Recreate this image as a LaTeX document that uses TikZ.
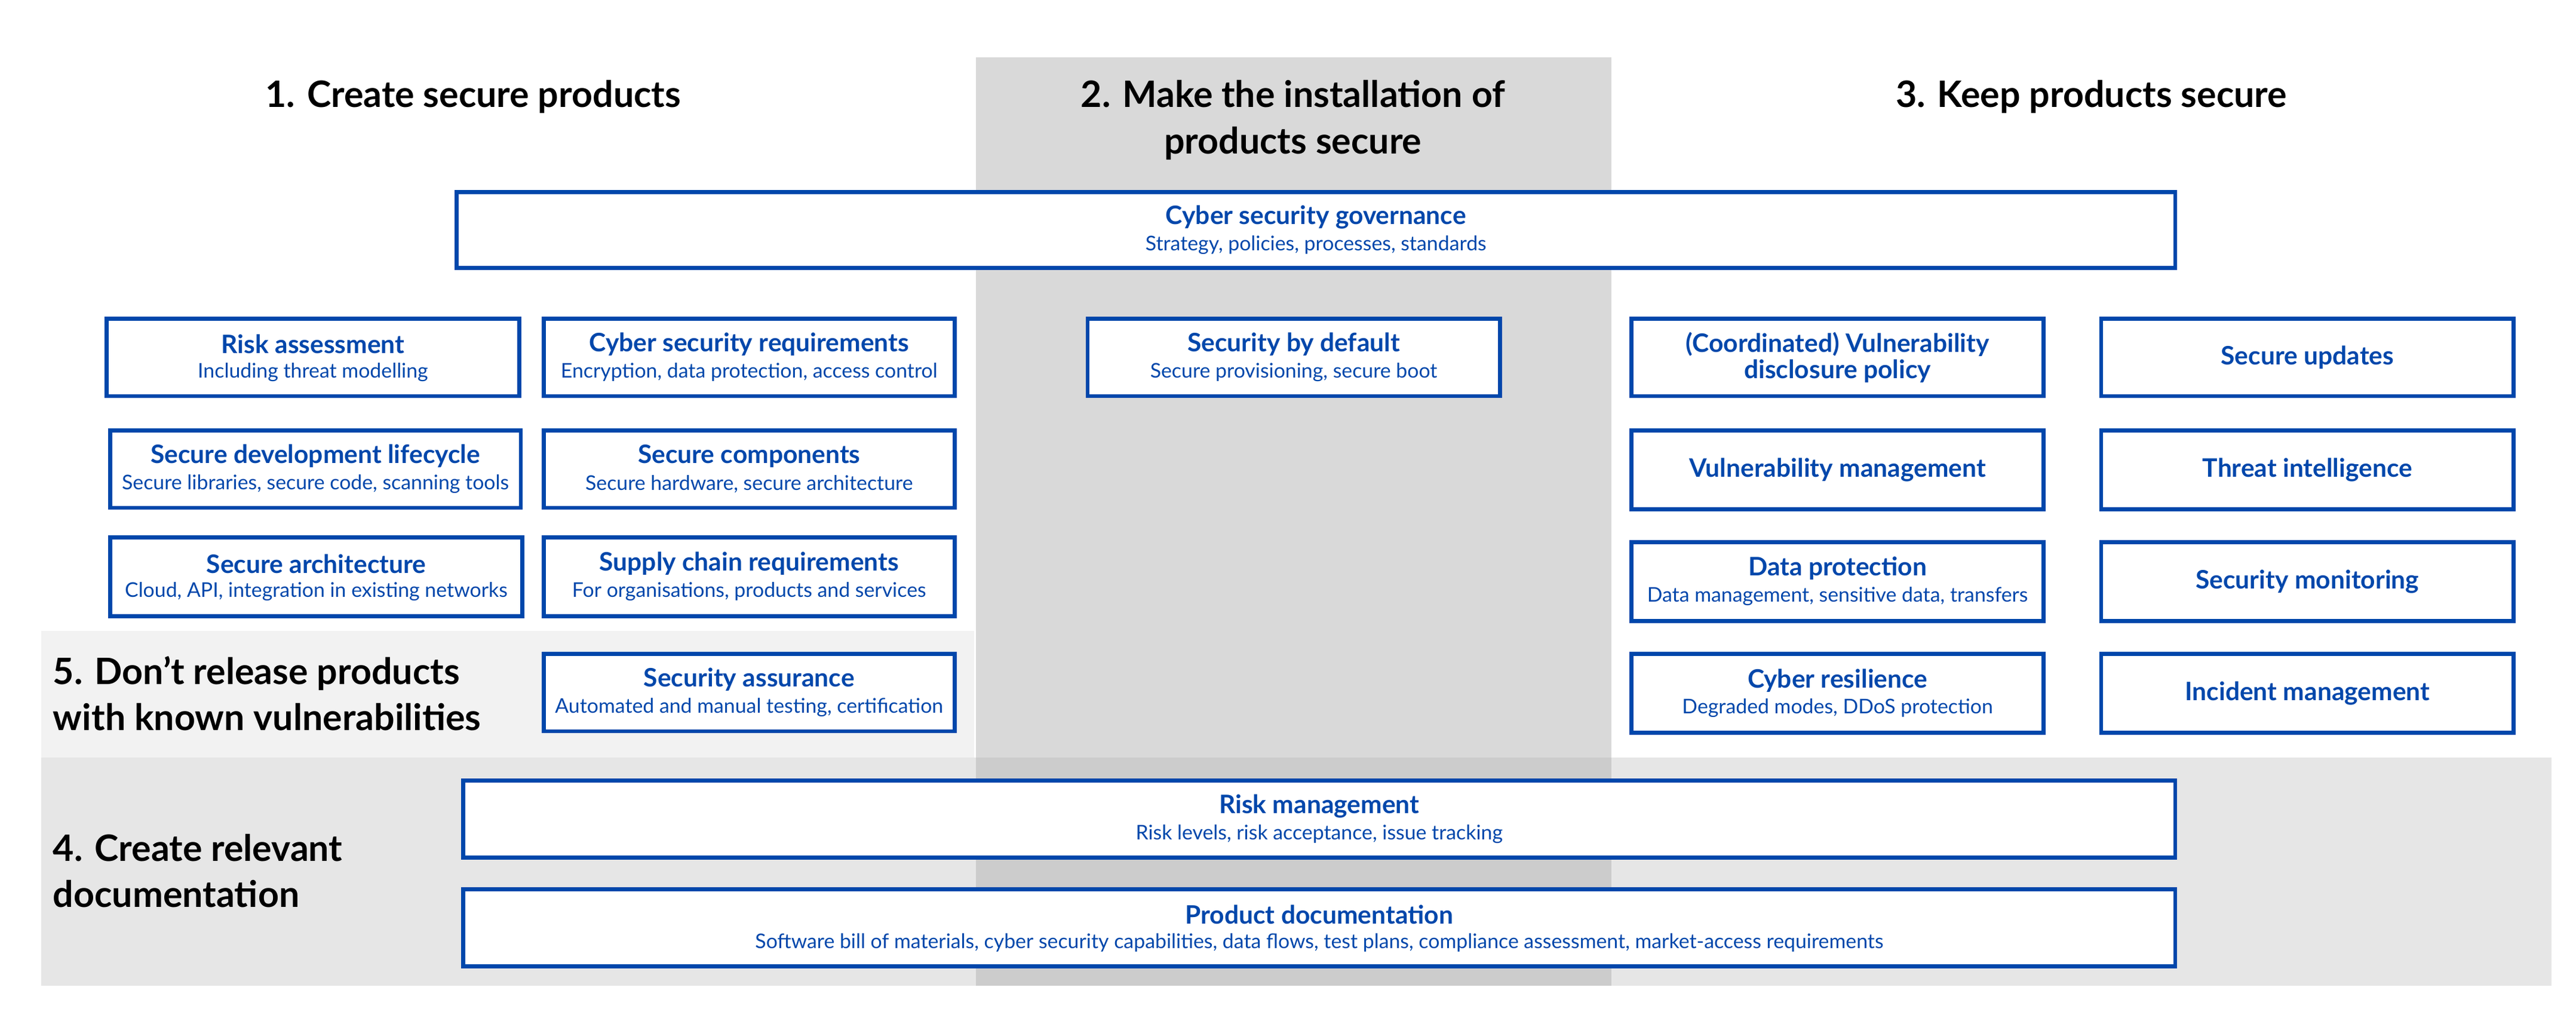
\documentclass[tikz,border=0pt]{standalone}
\usepackage{fontspec}
\setmainfont{Lato}
\definecolor{bl}{HTML}{0047AB}
\definecolor{g1}{HTML}{F2F2F2}
\definecolor{g2}{HTML}{E6E6E6}
\definecolor{g3}{HTML}{D9D9D9}
\definecolor{g4}{HTML}{CCCCCC}
\begin{document}
\begin{tikzpicture}[x=0.02cm,y=-0.02cm,
  box/.style={draw=bl,line width=1.4pt,fill=white},
  ttl/.style={font=\fontsize{8.8}{10}\selectfont\bfseries,text=bl,align=center},
  sub/.style={font=\fontsize{7}{8}\selectfont,text=bl,align=center},
  head/.style={font=\fontsize{12.6}{16}\selectfont\bfseries,align=center},
  lhead/.style={font=\fontsize{12.6}{16}\selectfont\bfseries,align=left,anchor=west,inner sep=0pt}]
\useasboundingbox (0,0) rectangle (1568,623);
\fill[white] (0,0) rectangle (1568,623);
\fill[g1] (25,384) rectangle (593,461);
\fill[g2] (25,461) rectangle (1553,600);
\fill[g3] (594,35) rectangle (981,461);
\fill[g4] (594,461) rectangle (981,600);
\node[head] (h1) at (288,59) {1. Create secure products};
\node[head] (h2) at (787,73) {2. Make the installation of\\products secure};
\node[head] (h3) at (1273,59) {3. Keep products secure};
\node[lhead] (h5) at (32,422) {5. Don’t release products\\with known vulnerabilities};
\node[lhead] (h4) at (32,530) {4. Create relevant\\documentation};
\newcommand\bx[7]{%
  \draw[box] (#2,#3) rectangle (#4,#5);
  \node[ttl] (#1) at ({(#2+#4)/2},{(#3+#5)/2-8}) {#6};
  \node[sub] (#1s) at ({(#2+#4)/2},{(#3+#5)/2+9}) {#7};}
\newcommand\bo[6]{%
  \draw[box] (#2,#3) rectangle (#4,#5);
  \node[ttl] (#1) at ({(#2+#4)/2},{(#3+#5)/2}) {#6};}
\bx{gov}{278}{117}{1324}{163}{Cyber security governance}{Strategy, policies, processes, standards}
\bx{ra}{65}{194}{316}{241}{Risk assessment}{Including threat modelling}
\bx{csr}{331}{194}{581}{241}{Cyber security requirements}{Encryption, data protection, access control}
\bx{sdl}{67}{262}{317}{309}{Secure development lifecycle}{Secure libraries, secure code, scanning tools}
\bx{sc}{331}{262}{581}{309}{Secure components}{Secure hardware, secure architecture}
\bx{sa}{67}{327}{318}{375}{Secure architecture}{Cloud, API, integration in existing networks}
\bx{scr}{331}{327}{581}{375}{Supply chain requirements}{For organisations, products and services}
\bx{sas}{331}{398}{581}{445}{Security assurance}{Automated and manual testing, certification}
\bx{sbd}{662}{194}{913}{241}{Security by default}{Secure provisioning, secure boot}
\bo{cvd}{993}{194}{1244}{241}{(Coordinated) Vulnerability\\[-1pt]disclosure policy}
\bo{su}{1279}{194}{1530}{241}{Secure updates}
\bo{vm}{993}{262}{1244}{310}{Vulnerability management}
\bo{ti}{1279}{262}{1530}{310}{Threat intelligence}
\bx{dp}{993}{330}{1244}{378}{Data protection}{Data management, sensitive data, transfers}
\bo{sm}{1279}{330}{1530}{378}{Security monitoring}
\bx{cr}{993}{398}{1244}{446}{Cyber resilience}{Degraded modes, DDoS protection}
\bo{im}{1279}{398}{1530}{446}{Incident management}
\bx{rm}{282}{475}{1324}{522}{Risk management}{Risk levels, risk acceptance, issue tracking}
\bx{pd}{282}{541}{1324}{588}{Product documentation}{Software bill of materials, cyber security capabilities, data flows, test plans, compliance assessment, market-access requirements}
\end{tikzpicture}
\end{document}
